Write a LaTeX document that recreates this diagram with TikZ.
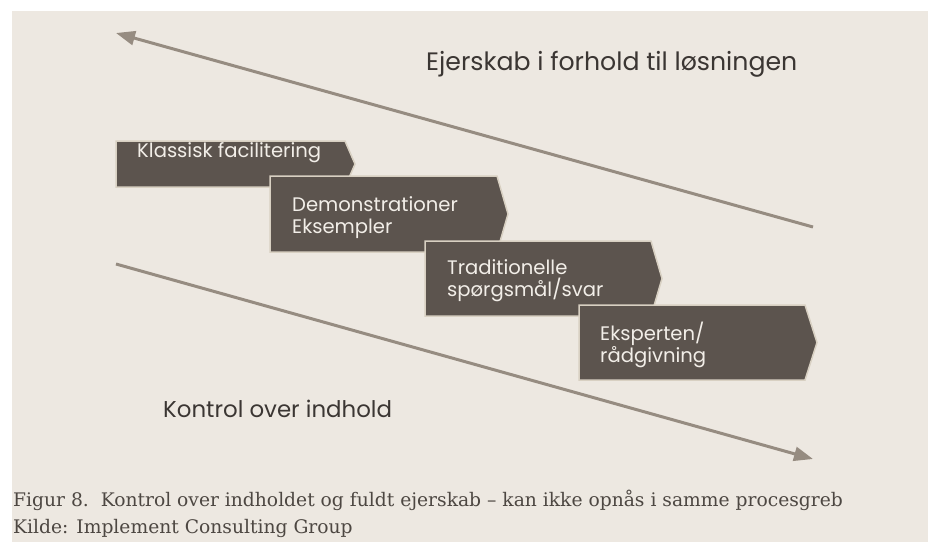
\documentclass[tikz,border=0pt]{standalone}
\usepackage{fontspec}
\setmainfont{DejaVu Serif}
\newfontfamily\boxfont{Poppins}
\usetikzlibrary{arrows.meta}
\definecolor{bgbeige}{HTML}{EDE8E1}
\definecolor{boxfill}{HTML}{5C544E}
\definecolor{boxedge}{HTML}{D8D0C2}
\definecolor{boxtext}{HTML}{F2EEE8}
\definecolor{arrowcol}{HTML}{968C81}
\definecolor{labeltext}{HTML}{3B3633}
\definecolor{captext}{HTML}{4D4742}
\tikzset{
  chevron/.style={fill=boxfill, draw=boxedge, line width=1.5pt, line join=miter},
  boxlabel/.style={anchor=base west, inner sep=0pt, text=boxtext, align=left,
    font=\boxfont\fontsize{19.6}{22.5}\selectfont},
  sidelabel/.style={anchor=base west, inner sep=0pt, text=labeltext},
  captionlabel/.style={anchor=base west, inner sep=0pt, text=captext,
    font=\fontsize{18.7}{27}\selectfont},
  bigarrow/.style={draw=arrowcol, line width=3pt, -{Triangle[length=19pt,width=14pt]}}
}
\begin{document}
\begin{tikzpicture}[x=1pt,y=-1pt]
\useasboundingbox (0,0) rectangle (928,542);
\fill[white] (0,0) rectangle (928,542);
\fill[bgbeige] (12,11) rectangle (928,542);

% arrows
\coordinate (ua) at (813,227);
\coordinate (ub) at (116,33);
\coordinate (la) at (116,264);
\coordinate (lb) at (813,459);
\draw[bigarrow] (ua) -- (ub);
\draw[bigarrow] (la) -- (lb);

% chevrons
\draw[chevron] (116,141) -- (345,141) -- (355,164) -- (345,187) -- (116,187) -- cycle;
\node[boxlabel] (t1) at (137,157) {Klassisk facilitering};

\draw[chevron] (270,176) -- (497,176) -- (508,214) -- (497,252) -- (270,252) -- cycle;
\node[boxlabel] (t2) at (292,233.5) {Demonstrationer\\Eksempler};

\draw[chevron] (425,241) -- (651,241) -- (662,278.5) -- (651,316) -- (425,316) -- cycle;
\node[boxlabel] (t3) at (447,296.5) {Traditionelle\\spørgsmål/svar};

\draw[chevron] (579,305) -- (805,305) -- (817,342.5) -- (805,380) -- (579,380) -- cycle;
\node[boxlabel] (t4) at (600,362.5) {Eksperten/\\rådgivning};

% side labels
\node[sidelabel, font=\boxfont\fontsize{25.2}{29}\selectfont] (own) at (426,70) {Ejerskab i forhold til løsningen};
\node[sidelabel, font=\boxfont\fontsize{22.9}{26}\selectfont] (ctl) at (163,417) {Kontrol over indhold};

% caption
\node[captionlabel] (cap1) at (13,506) {Figur 8.\ \ Kontrol over indholdet og fuldt ejerskab – kan ikke opnås i samme procesgreb};
\node[captionlabel] (cap2) at (13,533) {Kilde: Implement Consulting Group};
\end{tikzpicture}
\end{document}
